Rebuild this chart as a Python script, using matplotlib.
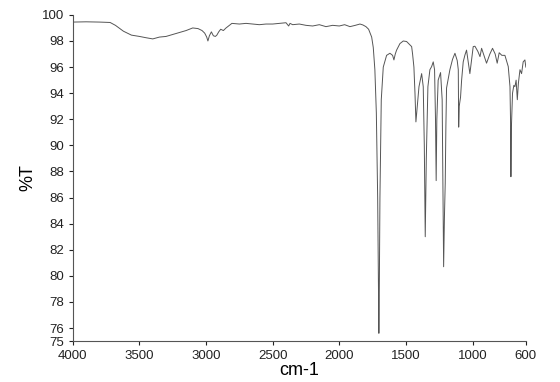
import matplotlib
matplotlib.use("Agg")
import matplotlib.pyplot as plt

wavenumber = [4000, 3900, 3800, 3720, 3680, 3620, 3560, 3500, 3450, 3400, 3350,
              3300, 3250, 3200, 3150, 3100, 3060, 3030, 3010, 2995, 2986, 2975,
              2960, 2945, 2930, 2919, 2905, 2890, 2870, 2850, 2806, 2750, 2700,
              2650, 2600, 2550, 2500, 2450, 2400, 2380, 2370, 2350, 2300, 2250,
              2200, 2150, 2100, 2050, 2000, 1960, 1920, 1880, 1845, 1823, 1800,
              1780, 1757, 1745, 1733, 1722, 1712, 1706, 1703, 1700, 1695, 1685,
              1670, 1645, 1620, 1600, 1590, 1580, 1570, 1545, 1520, 1495, 1457,
              1450, 1440, 1432, 1425, 1415, 1402, 1382, 1370, 1362, 1355, 1347,
              1335, 1320, 1307, 1295, 1285, 1278, 1273, 1268, 1258, 1240, 1228,
              1217, 1211, 1205, 1200, 1195, 1170, 1150, 1132, 1115, 1107, 1104,
              1100, 1090, 1082, 1070, 1057, 1045, 1020, 995, 982, 960, 944, 932,
              895, 870, 850, 830, 815, 800, 780, 757, 732, 719, 715, 712, 708, 700,
              690, 682, 673, 664, 656, 644, 632, 620, 607, 600]
transmittance = [99.45, 99.47, 99.45, 99.42, 99.2, 98.75, 98.45, 98.35, 98.25, 98.16, 98.3,
                 98.35, 98.5, 98.65, 98.8, 99.0, 98.95, 98.8, 98.6, 98.3, 98.0, 98.4,
                 98.7, 98.4, 98.35, 98.45, 98.7, 98.9, 98.8, 99.0, 99.35, 99.3, 99.35,
                 99.3, 99.25, 99.3, 99.3, 99.35, 99.4, 99.15, 99.35, 99.25, 99.3, 99.2,
                 99.15, 99.25, 99.1, 99.2, 99.15, 99.25, 99.1, 99.2, 99.3, 99.23, 99.1,
                 98.9, 98.3, 97.5, 95.8, 92.5, 86.0, 79.0, 75.6, 78.5, 86.0, 93.5,
                 96.0, 96.9, 97.06, 96.9, 96.55, 97.0, 97.3, 97.8, 98.0, 97.96, 97.57,
                 97.0, 96.0, 94.0, 91.8, 93.0, 94.5, 95.5, 94.5, 90.0, 83.0, 89.0,
                 94.5, 95.8, 96.04, 96.4, 95.8, 92.0, 87.3, 92.0, 95.0, 95.58, 93.5,
                 80.7, 84.5, 87.1, 91.5, 94.4, 95.8, 96.6, 97.06, 96.5, 95.8, 91.4,
                 93.0, 93.7, 95.0, 96.4, 96.93, 97.3, 95.5, 97.57, 97.6, 97.2, 96.8, 97.44,
                 96.3, 97.0, 97.44, 97.0, 96.3, 97.1, 96.9, 96.9, 96.04, 94.5, 92.0, 87.6,
                 91.5, 94.0, 94.6, 94.5, 95.0, 93.5, 94.76, 95.8, 95.5, 96.4, 96.55, 96.0]

y_ticks = [75, 76, 78, 80, 82, 84, 86, 88, 90, 92, 94, 96, 98, 100]
x_ticks = [4000, 3500, 3000, 2500, 2000, 1500, 1000, 600]

plt.rcParams['font.family'] = ['Liberation Sans', 'DejaVu Sans']

fig = plt.figure(figsize=(5.6, 3.82), dpi=100)
ax = fig.add_axes([0.130, 0.107, 0.809, 0.854])

ax.plot(wavenumber, transmittance, color='#555555', linewidth=0.7)

ax.set_xlim(4000, 600)
ax.set_ylim(75, 100)
ax.set_xticks(x_ticks)
ax.set_yticks(y_ticks)
ax.tick_params(labelsize=9.5, length=3, width=0.8, direction='out', colors='#222222')

for side in ['top', 'right']:
    ax.spines[side].set_visible(False)
for side in ['left', 'bottom']:
    ax.spines[side].set_color('#555555')
    ax.spines[side].set_linewidth(0.8)

ax.set_xlabel('cm-1', fontsize=13, labelpad=0)
ax.set_ylabel('%T', fontsize=13, labelpad=4)

plt.savefig('out.png', dpi=100)
